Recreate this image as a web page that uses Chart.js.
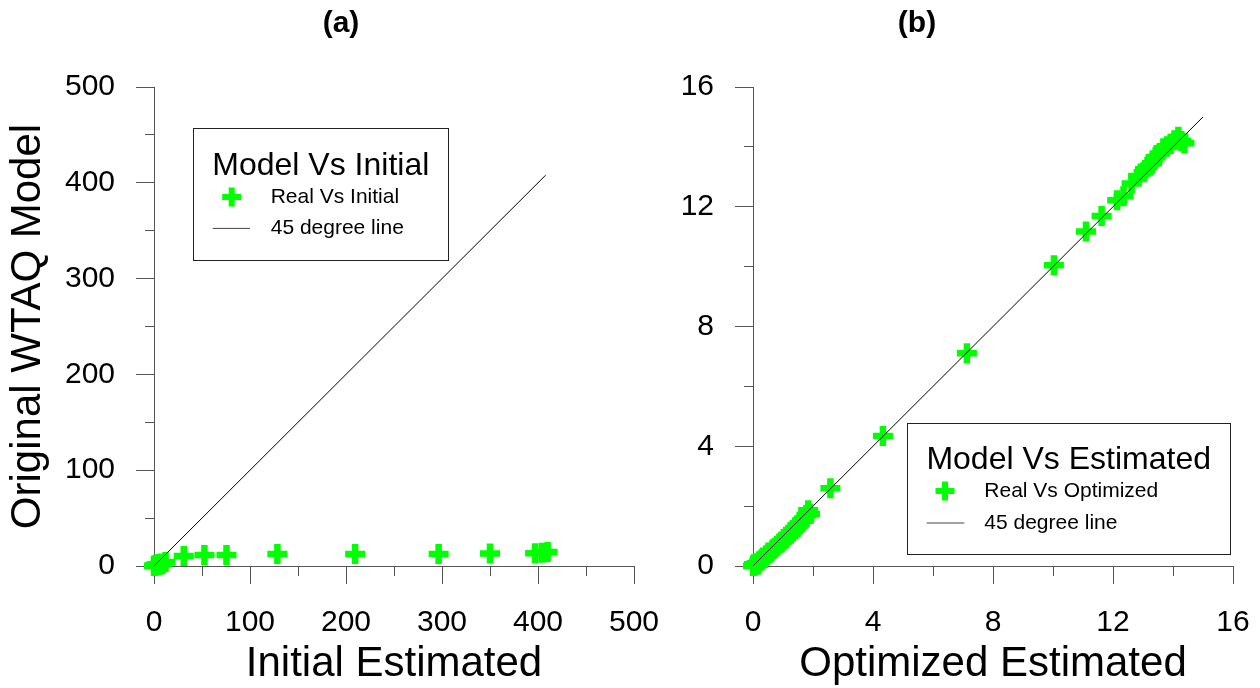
<!DOCTYPE html>
<html>
<head>
<meta charset="utf-8">
<title>Original WTAQ Model vs Estimated</title>
<script src="https://cdn.jsdelivr.net/npm/chart.js@4.4.1/dist/chart.umd.min.js"></script>
<style>
  html, body { margin: 0; padding: 0; background: #fff; }
  body { width: 1260px; height: 688px; position: relative; overflow: hidden; }
  .panel { position: absolute; top: 0; height: 688px; }
  #panelA { left: 0; width: 682px; }
  #panelB { left: 577px; width: 680px; }
</style>
</head>
<body>
<div class="panel" id="panelA"><canvas id="chartA"></canvas></div>
<div class="panel" id="panelB"><canvas id="chartB"></canvas></div>
<script>
// Values

// (a) initial estimate vs original WTAQ model
const initialEstimated = [0, 0.5, 1.2, 2.0, 2.8, 3.5, 4.5, 5.5, 6.8, 8.5, 12.0,
  31.0, 52.5, 75.5, 128.5, 209.5, 296.5, 350.0, 397.0, 404.0, 410.0];
const initialModel = [0, 0.6, 0.3, 1.1, 1.6, 0.9, 1.8, 1.4, 2.6, 1.9, 4.3,
  10.4, 11.4, 11.6, 12.4, 12.5, 12.6, 13.1, 13.3, 13.8, 14.5];
const lineA = [0, 408];
const ticksA = [0, 100, 200, 300, 400, 500];

// (b) optimized estimate vs original WTAQ model
const optimizedEstimated = [0.00, 0.03, 0.07, 0.12, 0.16, 0.21, 0.27, 0.33, 0.38, 0.45,
  0.52, 0.58, 0.66, 0.73, 0.80, 0.88, 0.95, 1.03, 1.10, 1.18,
  1.26, 1.33, 1.41, 1.48, 1.56, 1.63, 1.71, 1.78, 1.84, 1.90,
  2.58, 4.33, 7.13, 10.03, 11.10, 11.62, 12.14, 12.35, 12.62, 12.84,
  13.02, 13.15, 13.30, 13.42, 13.55, 13.68, 13.80, 13.92, 14.05, 14.18, 14.28, 14.38];
const optimizedModel = [0.00, 0.06, 0.01, 0.09, 0.05, 0.16, 0.18, 0.28, 0.27, 0.36,
  0.45, 0.44, 0.55, 0.60, 0.66, 0.75, 0.79, 0.90, 0.92, 1.04,
  1.08, 1.20, 1.24, 1.36, 1.40, 1.52, 1.56, 1.70, 1.86, 1.74,
  2.60, 4.34, 7.11, 10.05, 11.17, 11.69, 12.22, 12.35, 12.78, 13.03,
  13.15, 13.34, 13.45, 13.65, 13.78, 13.95, 14.02, 14.10, 14.22, 14.34, 14.20, 14.12];
const lineB = [0, 15];
const ticksB = [0, 4, 8, 12, 16];

const FONT = '"Liberation Sans", Arial, Helvetica, sans-serif';
const GREEN = '#00ff00';
const AXIS = '#555';

Chart.defaults.font.family = FONT;
Chart.defaults.color = '#000';

function toPoints(xs, ys) {
    return xs.map((x, i) => ({ x: x, y: ys[i] }));
}

// panel title plus the framed legend inside the plot, like the original figure
const boxLegend = {
    id: 'boxLegend',
    afterDraw(chart, args, o) {
        const ctx = chart.ctx;
        const sets = chart.data.datasets;
        ctx.save();

        ctx.fillStyle = '#000';
        ctx.textAlign = 'center';
        ctx.textBaseline = 'alphabetic';
        ctx.font = 'bold 30px ' + FONT;
        ctx.fillText(o.panelTitle, o.panelTitleAt[0], o.panelTitleAt[1]);

        ctx.fillStyle = '#fff';
        ctx.fillRect(o.box[0], o.box[1], o.box[2], o.box[3]);
        ctx.strokeStyle = '#222';
        ctx.lineWidth = 1;
        ctx.strokeRect(o.box[0] + 0.5, o.box[1] + 0.5, o.box[2], o.box[3]);

        ctx.fillStyle = '#000';
        ctx.textBaseline = 'middle';
        ctx.font = '32px ' + FONT;
        ctx.fillText(o.title, o.titleAt[0], o.titleAt[1]);

        // cross marker
        const [px, py] = o.pointAt;
        ctx.strokeStyle = sets[1].pointBorderColor;
        ctx.lineWidth = 6;
        ctx.beginPath();
        ctx.moveTo(px - 9.5, py); ctx.lineTo(px + 9.5, py);
        ctx.moveTo(px, py - 9.5); ctx.lineTo(px, py + 9.5);
        ctx.stroke();

        // line sample
        ctx.strokeStyle = '#444';
        ctx.lineWidth = 1;
        ctx.beginPath();
        ctx.moveTo(o.line[0], o.line[2]); ctx.lineTo(o.line[1], o.line[2]);
        ctx.stroke();

        ctx.textAlign = 'left';
        ctx.font = '21px ' + FONT;
        ctx.fillText(sets[1].label, o.textX, py);
        ctx.fillText(sets[0].label, o.textX, o.line[2]);
        ctx.restore();
    }
};

function makePanel(canvasId, cfg) {
    const isMajor = v => cfg.majorTicks.includes(v);

    function grid(outerStart) {
        return {
            drawOnChartArea: false,
            drawTicks: true,
            tickLength: 18,
            color: AXIS,
            lineWidth: 1,
            tickBorderDash: c => (c.tick && !isMajor(c.tick.value)) ? [9, 9] : [],
            tickBorderDashOffset: c => (c.tick && !isMajor(c.tick.value) && outerStart) ? 9 : 0
        };
    }

    const ticks = {
        stepSize: cfg.minorStep,
        autoSkip: false,
        maxRotation: 0,
        padding: 21,
        color: '#000',
        font: { size: 30 },
        callback: v => isMajor(v) ? String(v) : ''
    };

    return new Chart(document.getElementById(canvasId), {
        type: 'scatter',
        data: {
            datasets: [{
                label: '45 degree line',
                data: [{ x: cfg.line[0], y: cfg.line[0] }, { x: cfg.line[1], y: cfg.line[1] }],
                showLine: true,
                borderColor: '#000',
                borderWidth: 1,
                pointRadius: 0,
                order: 0
            }, {
                label: cfg.pointLabel,
                data: toPoints(cfg.xs, cfg.ys),
                pointStyle: 'cross',
                pointRadius: 10,
                pointBorderWidth: 6.5,
                pointBorderColor: GREEN,
                pointBackgroundColor: GREEN,
                borderColor: GREEN,
                clip: false,
                order: 1
            }]
        },
        options: {
            responsive: true,
            maintainAspectRatio: false,
            animation: false,
            events: [],
            layout: { padding: { left: 0, right: cfg.padRight, top: 87, bottom: 0 } },
            plugins: {
                legend: { display: false },
                tooltip: { enabled: false },
                title: { display: false },
                boxLegend: cfg.legend
            },
            scales: {
                x: {
                    type: 'linear',
                    position: 'bottom',
                    min: 0,
                    max: cfg.max,
                    border: { display: true, color: AXIS, width: 1 },
                    grid: grid(false),
                    ticks: ticks,
                    title: {
                        display: true,
                        text: cfg.xTitle,
                        color: '#000',
                        font: { size: 42, lineHeight: 1 },
                        padding: { top: 0, bottom: 2.5 }
                    },
                    afterFit: s => {
                        s.height = 122;
                        s.paddingLeft = 0;
                        s.paddingRight = 0;
                    }
                },
                y: {
                    type: 'linear',
                    position: 'left',
                    min: 0,
                    max: cfg.max,
                    border: { display: true, color: AXIS, width: 1 },
                    grid: grid(true),
                    ticks: ticks,
                    title: {
                        display: !!cfg.yTitle,
                        text: cfg.yTitle || '',
                        color: '#000',
                        font: { size: 42, lineHeight: 1 },
                        padding: { top: 7.8, bottom: 0 }
                    },
                    afterFit: s => {
                        s.width = cfg.yWidth;
                        s.paddingTop = 0;
                        s.paddingBottom = 0;
                    }
                }
            }
        },
        plugins: [boxLegend]
    });
}

makePanel('chartA', {
    xs: initialEstimated,
    ys: initialModel,
    line: lineA,
    max: 500,
    minorStep: 50,
    majorTicks: ticksA,
    pointLabel: 'Real Vs Initial',
    xTitle: 'Initial Estimated',
    yTitle: 'Original WTAQ Model',
    yWidth: 154,
    padRight: 48,
    legend: {
        panelTitle: '(a)',
        panelTitleAt: [341, 32],
        title: 'Model Vs Initial',
        box: [193, 128, 255, 132],
        titleAt: [320.8, 166.6],
        pointAt: [231.7, 197],
        line: [212.7, 250, 228.4],
        textX: 270.7
    }
});

makePanel('chartB', {
    xs: optimizedEstimated,
    ys: optimizedModel,
    line: lineB,
    max: 16,
    minorStep: 2,
    majorTicks: ticksB,
    pointLabel: 'Real Vs Optimized',
    xTitle: 'Optimized Estimated',
    yTitle: null,
    yWidth: 176,
    padRight: 24,
    legend: {
        panelTitle: '(b)',
        panelTitleAt: [340, 32],
        title: 'Model Vs Estimated',
        box: [330, 423, 323, 131],
        titleAt: [491.7, 460.6],
        pointAt: [368, 491],
        line: [349.7, 387.3, 523],
        textX: 407.3
    }
});
</script>
</body>
</html>
